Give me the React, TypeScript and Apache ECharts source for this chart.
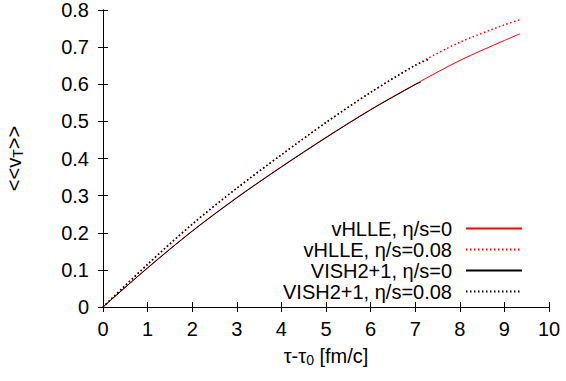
import React, { useEffect, useRef } from "react";
import * as echarts from "echarts";

// tau - tau0 [fm/c] sample points and <<v_T>> values
const tRedIdeal = [0, 1, 2, 3, 4, 5, 6, 7, 8, 9, 9.35];
const vRedIdeal = [0, 0.106, 0.205, 0.295, 0.378, 0.457, 0.532, 0.600, 0.664, 0.718, 0.736];

const tRedVisc = [0, 1, 2, 3, 4, 5, 6, 7, 8, 9, 9.35];
const vRedVisc = [0, 0.115, 0.223, 0.320, 0.410, 0.497, 0.578, 0.651, 0.713, 0.760, 0.774];

const tBlackIdeal = [0, 1, 2, 3, 4, 5, 6, 7, 7.13];
const vBlackIdeal = [0, 0.105, 0.204, 0.294, 0.377, 0.456, 0.531, 0.599, 0.606];

const tBlackVisc = [0, 1, 2, 3, 4, 5, 6, 7, 7.33];
const vBlackVisc = [0, 0.115, 0.223, 0.320, 0.410, 0.497, 0.578, 0.651, 0.668];

const seriesNames = [
  "vHLLE, η/s=0",
  "vHLLE, η/s=0.08",
  "VISH2+1, η/s=0",
  "VISH2+1, η/s=0.08",
];

const xTicks = [0, 1, 2, 3, 4, 5, 6, 7, 8, 9, 10];
const yTicks = [0, 0.1, 0.2, 0.3, 0.4, 0.5, 0.6, 0.7, 0.8];

const FONT = "'Liberation Sans', Arial, Helvetica, sans-serif";
const FS = 20;

function zip(t: number[], v: number[]) {
  return t.map((x, i) => [x, v[i]]);
}

export default function App() {
  const ref = useRef<HTMLDivElement>(null);
  useEffect(() => {
    if (!ref.current) return;
    const chart = echarts.init(ref.current, null, { renderer: "svg" });
    const axisCommon = {
      axisLine: { show: true, lineStyle: { color: "#000", width: 1 } },
      axisTick: { show: true, inside: true, length: 5, lineStyle: { color: "#000" } },
      splitLine: { show: false },
    };
    const rich = {
      a: { fontSize: FS, color: "#000", fontFamily: FONT },
      sub: { fontSize: 14, color: "#000", fontFamily: FONT, padding: [8, 0, 0, 0] },
    };
    chart.setOption({
      animation: false,
      backgroundColor: "#fff",
      textStyle: { fontFamily: FONT },
      grid: {
        left: 103,
        right: 17,
        top: 10,
        bottom: 74,
        containLabel: false,
        outerBoundsMode: "none",
      },
      xAxis: [
        {
          type: "value",
          min: xTicks[0],
          max: xTicks[xTicks.length - 1],
          interval: 1,
          position: "bottom",
          ...axisCommon,
          axisLabel: { fontSize: FS, color: "#000", margin: 12, fontFamily: FONT },
          name: "{a|τ-τ}{sub|0}{a| [fm/c]}",
          nameLocation: "middle",
          nameGap: 38,
          nameTextStyle: { rich },
        },
        {
          type: "value",
          min: xTicks[0],
          max: xTicks[xTicks.length - 1],
          interval: 1,
          position: "top",
          ...axisCommon,
          axisLabel: { show: false },
        },
      ],
      yAxis: [
        {
          type: "value",
          min: yTicks[0],
          max: yTicks[yTicks.length - 1],
          interval: 0.1,
          position: "left",
          ...axisCommon,
          axisLabel: {
            fontSize: FS,
            color: "#000",
            margin: 14,
            fontFamily: FONT,
            formatter: (v: number) => (v === 0 ? "0" : v.toFixed(1)),
          },
          name: "{a|<<v}{sub|T}{a|>>}",
          nameLocation: "middle",
          nameRotate: 90,
          nameGap: 78,
          nameTextStyle: { rich },
        },
        {
          type: "value",
          min: yTicks[0],
          max: yTicks[yTicks.length - 1],
          interval: 0.1,
          position: "right",
          ...axisCommon,
          axisLabel: { show: false },
        },
      ],
      legend: {
        orient: "vertical",
        right: 38,
        top: 213,
        align: "right",
        itemWidth: 56,
        itemHeight: 14,
        itemGap: 0,
        itemStyle: { opacity: 0 },
        textStyle: {
          fontSize: FS,
          color: "#000",
          fontFamily: FONT,
          lineHeight: 21,
          padding: [0, 9, 0, 0],
        },
        data: seriesNames,
      },
      series: [
        {
          name: seriesNames[0],
          type: "line",
          data: zip(tRedIdeal, vRedIdeal),
          smooth: 0.3,
          symbol: "none",
          lineStyle: { color: "#ff0000", width: 1 },
          itemStyle: { color: "#ff0000" },
        },
        {
          name: seriesNames[1],
          type: "line",
          data: zip(tRedVisc, vRedVisc),
          smooth: 0.3,
          symbol: "none",
          lineStyle: { color: "#ff0000", width: 1.5, type: [1.5, 2.5] },
          itemStyle: { color: "#ff0000" },
        },
        {
          name: seriesNames[2],
          type: "line",
          data: zip(tBlackIdeal, vBlackIdeal),
          smooth: 0.3,
          symbol: "none",
          lineStyle: { color: "#000", width: 1 },
          itemStyle: { color: "#000" },
        },
        {
          name: seriesNames[3],
          type: "line",
          data: zip(tBlackVisc, vBlackVisc),
          smooth: 0.3,
          symbol: "none",
          lineStyle: { color: "#000", width: 1.5, type: [1.5, 2.5] },
          itemStyle: { color: "#000" },
        },
      ],
    });
    return () => chart.dispose();
  }, []);
  return (
    <div
      ref={ref}
      style={{ position: "fixed", left: 0, top: 0, width: 566, height: 381, background: "#fff" }}
    />
  );
}
